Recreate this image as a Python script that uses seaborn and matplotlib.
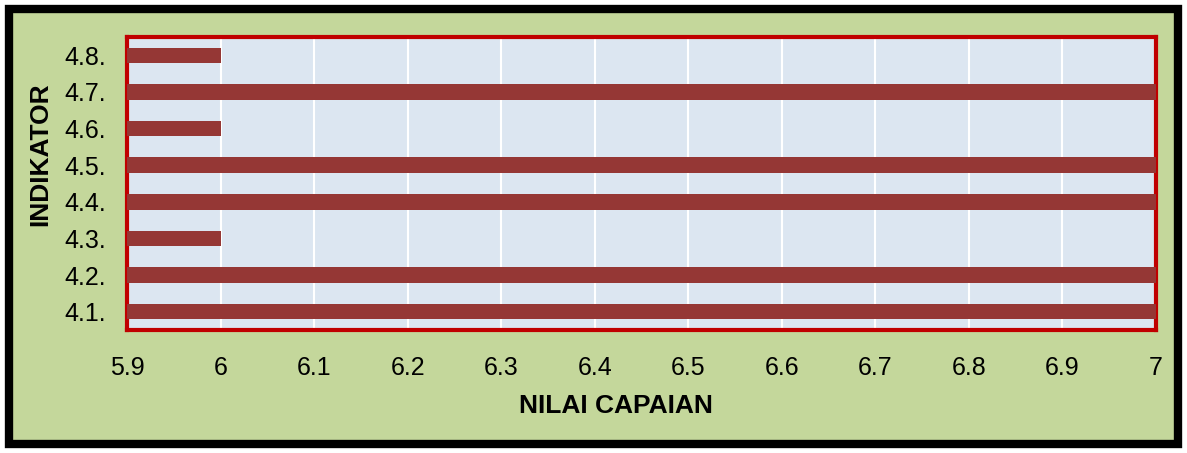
import matplotlib
matplotlib.use("Agg")
import matplotlib.pyplot as plt
import seaborn as sns
import pandas as pd
import numpy as np
from matplotlib.patches import Rectangle

# data, top to bottom
indikator = ['4.8.', '4.7.', '4.6.', '4.5.', '4.4.', '4.3.', '4.2.', '4.1.']
nilai = [6, 7, 6, 7, 7, 6, 7, 7]
x_ticks = [5.9, 6, 6.1, 6.2, 6.3, 6.4, 6.5, 6.6, 6.7, 6.8, 6.9, 7]
x_labels = ['5.9', '6', '6.1', '6.2', '6.3', '6.4', '6.5', '6.6', '6.7', '6.8', '6.9', '7']

df = pd.DataFrame({'Indikator': indikator, 'Nilai': nilai})

sns.set_style("white")
plt.rcParams['font.family'] = ['Liberation Sans', 'DejaVu Sans']
plt.rcParams['text.color'] = 'black'
plt.rcParams['axes.labelcolor'] = 'black'
plt.rcParams['xtick.labelcolor'] = 'black'
plt.rcParams['ytick.labelcolor'] = 'black'

fig = plt.figure(figsize=(11.87, 4.53), dpi=100)
fig.patch.set_facecolor('white')
# green panel with black frame
frame = Rectangle((9 / 1187, 9 / 453), 1169 / 1187, 435 / 453,
                  transform=fig.transFigure, facecolor='#C4D79B',
                  edgecolor='black', linewidth=6, zorder=-10)
fig.add_artist(frame)

ax = fig.add_axes([127 / 1187, 1 - 330 / 453, 1029 / 1187, 293 / 453])
ax.set_zorder(5)
ax.set_facecolor('#DCE6F1')

sns.barplot(data=df, x='Nilai', y='Indikator', order=indikator, orient='h',
            color='#953735', saturation=1, width=0.42, linewidth=0,
            ax=ax, zorder=3)

ax.set_xlim(5.9, 7)
ax.set_xticks(x_ticks)
ax.set_xticklabels(x_labels, fontsize=18)
ax.grid(axis='x', color='white', linewidth=1.5, zorder=1)
ax.set_axisbelow(True)

ax.set_ylim(len(indikator) - 0.5, -0.5)
ax.set_yticks(np.arange(len(indikator)))
ax.set_yticklabels(indikator, fontsize=18)
ax.set_yticks(np.arange(len(indikator) + 1) - 0.5, minor=True)

ax.tick_params(axis='y', which='major', length=0, pad=15)
ax.tick_params(axis='y', which='minor', length=6, color='white', width=1.5)
ax.tick_params(axis='x', which='major', length=5, color='white', width=1.5,
               pad=14, direction='out')

for s in ax.spines.values():
    s.set_visible(True)
    s.set_color('#C00000')
    s.set_linewidth(3)

ax.set_xlabel('NILAI CAPAIAN', fontsize=19, fontweight='bold')
ax.xaxis.set_label_coords(0.475, -0.22)
ax.set_ylabel('INDIKATOR', fontsize=19, fontweight='bold')
ax.yaxis.set_label_coords(-0.073, 0.6)

fig.savefig('out.png', dpi=100, facecolor=fig.get_facecolor())
